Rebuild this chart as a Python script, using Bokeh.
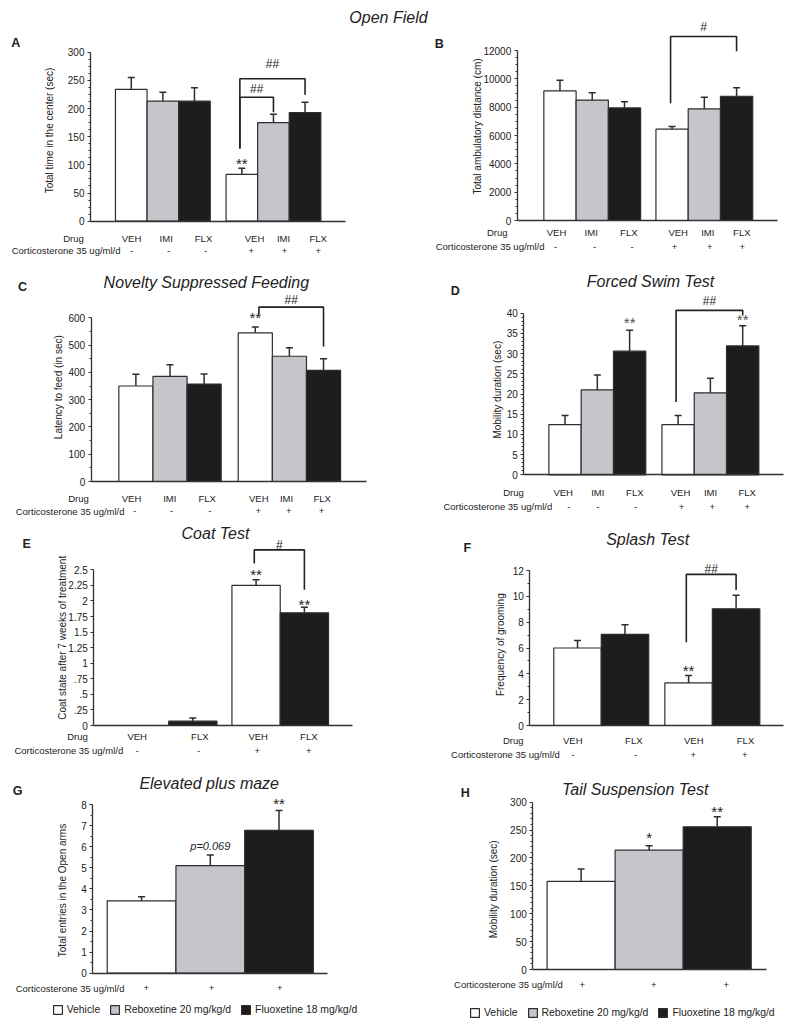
import math
from bokeh.plotting import figure
from bokeh.models import Label, Range1d, FixedTicker, Legend, LegendItem, ColumnDataSource
from bokeh.layouts import column, row
from bokeh.embed import file_html
from bokeh.resources import INLINE

# ---------------- data ----------------
drug6 = ["VEH", "IMI", "FLX", "VEH", "IMI", "FLX"]
cort6 = ["-", "-", "-", "+", "+", "+"]
drug4 = ["VEH", "FLX", "VEH", "FLX"]
cort4 = ["-", "-", "+", "+"]
treat3 = ["Vehicle", "Reboxetine 20 mg/kg/d", "Fluoxetine 18 mg/kg/d"]
cort3 = ["+", "+", "+"]

a_time_center = [234, 213, 213, 83, 175, 193]
a_sem = [21, 16, 24, 11, 15, 18]
b_distance = [9150, 8500, 7950, 6450, 7880, 8770]
b_sem = [750, 520, 430, 190, 820, 600]
c_latency = [350, 385, 357, 545, 459, 407]
c_sem = [43, 43, 37, 21, 31, 43]
d_mobility = [12.4, 21.0, 30.6, 12.4, 20.3, 31.9]
d_sem = [2.3, 3.7, 5.2, 2.3, 3.6, 5.0]
e_coat = [0.0, 0.07, 2.25, 1.81]
e_sem = [0.0, 0.05, 0.09, 0.09]
f_grooming = [6.0, 7.05, 3.3, 9.03]
f_sem = [0.58, 0.75, 0.57, 1.05]
g_entries = [3.43, 5.1, 6.77]
g_sem = [0.2, 0.5, 0.95]
h_mobility = [158, 214, 256]
h_sem = [22, 8, 18]

# significance brackets: (from bar, to bar, top, left foot, right foot, label)
a_brackets = [(3, 4, 220, 129, 193.5, "##"), (3, 5, 253, 129, 224.4, "##")]
b_brackets = [(3, 5, 12990, 8280, 11950, "#")]
c_brackets = [(3, 5, 639, 612, 495, "##")]
d_brackets = [(3, 5, 40.7, 18.0, 39.4, "##")]
e_brackets = [(2, 3, 2.82, 2.60, 2.18, "#")]
f_brackets = [(2, 3, 11.7, 6.45, 10.5, "##")]

# stars above bars: (bar, text)
a_stars = [(3, "**")]
c_stars = [(3, "**")]
d_stars = [(2, "**"), (5, "**")]
e_stars = [(2, "**"), (3, "**")]
f_stars = [(2, "**")]
g_stars = [(1, "p=0.069"), (2, "**")]
h_stars = [(1, "*"), (2, "**")]

# ---------------- style ----------------
FONT = "Liberation Sans"
TXT = "#222222"
AX = "#333333"
EDGE = "#2e2e2e"
COL = {"VEH": "#ffffff", "IMI": "#c4c6cc", "FLX": "#1f1c1d",
       "Vehicle": "#ffffff", "Reboxetine 20 mg/kg/d": "#c4c6cc", "Fluoxetine 18 mg/kg/d": "#1f1c1d"}


def tick_lists(ymax, step, nminor):
    n = int(round(ymax / step))
    majors = [round(k * step, 6) for k in range(n + 1)]
    minors = []
    if nminor > 1:
        for k in range(n):
            for m in range(1, nminor):
                minors.append(round(k * step + m * step / nminor, 6))
    return majors, minors


def build(cfg, names, vals, errs, cort, drug=None, brackets=(), stars=(), ox=0, oy=0):
    # box: width/height, y-axis x position, right gap, (unused), x-axis distance from bottom
    w, h, l, r, t, b = cfg["box"]
    xend = cfg["xend"]
    ymax = cfg["ymax"]
    unit = (w - l - r) / xend          # px per bar width
    ppu = cfg["span"] / ymax           # px per y unit
    W, H, L = w + ox, h + oy, l + ox   # canvas including page offset
    p = figure(width=int(round(W)), height=int(round(H)),
               x_range=Range1d(-L / unit, (W - L) / unit),
               y_range=Range1d(-b / ppu, (H - b) / ppu),
               min_border=0, min_border_left=0, min_border_right=0,
               min_border_top=0, min_border_bottom=0,
               output_backend="svg", toolbar_location=None, outline_line_color=None)
    p.xgrid.grid_line_color = None
    p.ygrid.grid_line_color = None

    def dx(px):
        return (px - l) / unit

    def dy(py):
        return (h - b - py) / ppu

    def py_of(v):
        return h - b - v * ppu

    def text(px, py, s, size="10px", align="center", style="normal", angle=0.0, color=TXT):
        p.add_layout(Label(x=dx(px), y=dy(py), text=s, text_font=FONT, text_font_size=size,
                           text_font_style=style, text_align=align, text_baseline="middle",
                           angle=angle, text_color=color))

    # axes (real Bokeh axes, fixed inside the frame)
    ya = p.yaxis[0]
    majors, minors = tick_lists(ymax, cfg["step"], cfg["nminor"])
    ya.ticker = FixedTicker(ticks=majors, minor_ticks=minors)
    ya.bounds = (0, ymax)
    ya.fixed_location = 0
    if cfg.get("fmt_short"):
        ov = {}
        for m in majors:
            s = "%g" % m
            if s.startswith("0."):
                s = s[1:]
            ov[float(m)] = s
        ya.major_label_overrides = ov
    ya.major_label_text_font = FONT
    ya.major_label_text_font_size = "10px"
    ya.major_label_text_color = TXT
    ya.major_label_standoff = 3
    ya.major_tick_out = 3
    ya.major_tick_in = 0
    ya.minor_tick_out = 2
    ya.minor_tick_in = 0
    ya.axis_line_color = AX
    ya.axis_line_width = 1.3
    ya.major_tick_line_color = AX
    ya.minor_tick_line_color = AX

    xa = p.xaxis[0]
    xa.ticker = FixedTicker(ticks=[])
    xa.bounds = (0, xend)
    xa.fixed_location = 0
    xa.major_label_text_font_size = "0px"
    xa.major_tick_line_color = None
    xa.minor_tick_line_color = None
    xa.axis_line_color = AX
    xa.axis_line_width = 1.3

    # bars
    n = len(vals)
    xs = [cfg["lead"] + i + cfg["gap"] * (i // cfg["grp"]) + 0.5 for i in range(n)]
    src = ColumnDataSource(dict(x=xs, top=vals, color=[COL[s] for s in names]))
    rend = p.vbar(x="x", top="top", width=1, bottom=0, fill_color="color",
                  line_color=EDGE, line_width=1.2, source=src)

    # error bars (upper only)
    cap = 3.5 / unit
    ex = [x for x, e in zip(xs, errs) if e > 0]
    ev = [v for v, e in zip(vals, errs) if e > 0]
    et = [v + e for v, e in zip(vals, errs) if e > 0]
    p.segment(x0=ex, y0=ev, x1=ex, y1=et, line_color=EDGE, line_width=1.5)
    p.segment(x0=[x - cap for x in ex], y0=et, x1=[x + cap for x in ex], y1=et,
              line_color=EDGE, line_width=1.5)

    # brackets
    for k, (i, j, top, lb, rb, lab) in enumerate(brackets):
        shift = cfg["bshift"][k] / unit
        xl, xr = xs[i] + shift, xs[j]
        p.line(x=[xl, xl, xr, xr], y=[lb, top, top, rb], line_color="#222222", line_width=1.6)
        text(l + ((xl + xr) / 2) * unit, py_of(top) - cfg["blab"][k], lab, size="12px")

    # stars
    for k, (i, s) in enumerate(stars):
        d = cfg["sd"][k]
        if "=" not in s:
            text(l + xs[i] * unit, py_of(vals[i] + errs[i]) - d, s, size="15px",
                 color=cfg.get("star_color", TXT))
        else:
            text(l + xs[i] * unit, py_of(vals[i] + errs[i]) - d, s, size="11px", style="italic")

    # titles and letters
    if cfg.get("title"):
        tx, ty = cfg["title_pos"]
        text(tx, ty, cfg["title"], size="16px", style="italic")
    lx, ly = cfg["letter_pos"]
    text(lx, ly, cfg["letter"], size="12.5px", style="bold")
    yx, yy = cfg["ylab_pos"]
    text(yx, yy, cfg["ylabel"], size="10px", angle=math.pi / 2)

    # treatment rows
    if drug is not None:
        dy_px = cfg["drug_y"]
        text(cfg["drug_right"], dy_px, "Drug", size="9.5px", align="right")
        for px, s in zip(cfg["drug_xs"], drug):
            text(px, dy_px, s, size="9.5px")
    cy = cfg["cort_y"]
    text(cfg["cort_right"], cy, "Corticosterone 35 ug/ml/d", size="9.5px", align="right")
    for px, s in zip(cfg["cort_xs"], cort):
        text(px, cy, s, size="9.5px")

    if cfg.get("legend_px") is not None:
        lxp, lyc = cfg["legend_px"]
        items = [LegendItem(label=names[i], renderers=[rend], index=i) for i in range(n)]
        leg = Legend(items=items, location=(lxp + ox, h - (lyc + 5.5)), orientation="horizontal",
                     padding=0, margin=0, spacing=9, label_standoff=4,
                     glyph_width=11, glyph_height=11, label_height=11,
                     label_text_font=FONT, label_text_font_size="10.4px",
                     label_text_color=TXT, border_line_color=None, background_fill_alpha=0)
        p.add_layout(leg, "center")
    return p


cfgA = dict(box=(422, 250, 82, 85, 44, 37.3), xend=8.07, lead=0.79, gap=0.5, grp=3,
            ymax=300, span=169, step=50, nminor=4,
            title="Open Field", title_pos=(380, 9), letter="A", letter_pos=(7.3, 34.7),
            ylabel="Total time in the center (sec)", ylab_pos=(41, 122),
            drug_y=230.3, drug_right=75.3, drug_xs=[123, 157.7, 195, 246, 275, 309.7],
            cort_y=242, cort_right=112, cort_xs=[123, 160, 197, 242.7, 276, 309.7],
            bshift=[-2, -2], blab=[8, 15], sd=[4.6])
cfgB = dict(box=(362, 250, 86.7, 15.3, 12, 38), xend=8.06, lead=0.826, gap=0.475, grp=3,
            ymax=12000, span=170, step=2000, nminor=4,
            letter="B", letter_pos=(8.8, 35.3),
            ylabel="Total ambulatory distance (cm)", ylab_pos=(47.3, 118),
            drug_y=224.3, drug_right=77, drug_xs=[126, 160.7, 198.3, 247.7, 277.3, 311.3],
            cort_y=238, cort_right=114, cort_xs=[125, 164, 201.7, 244, 279.3, 311.7],
            bshift=[-1.5], blab=[9], sd=[])
cfgC = dict(box=(392, 260, 82.7, 34, 34, 37), xend=8.07, lead=0.81, gap=0.5, grp=3,
            ymax=600, span=163.7, step=100, nminor=2,
            title="Novelty Suppressed Feeding", title_pos=(197.8, 23.7), letter="C",
            letter_pos=(14, 28.7),
            ylabel="Latency to feed (in sec)", ylab_pos=(50.3, 128.7),
            drug_y=240.3, drug_right=80.3, drug_xs=[123, 161.3, 198.7, 250.3, 278, 313.7],
            cort_y=252.7, cort_right=116, cort_xs=[126.3, 163, 201.3, 249.7, 280.3, 313],
            bshift=[3.6], blab=[7], sd=[10])
cfgD = dict(box=(392, 260, 123.3, 9.3, 34, 43.7), xend=8.03, lead=0.776, gap=0.5, grp=3,
            ymax=40, span=161.6, step=5, nminor=5,
            title="Forced Swim Test", title_pos=(250, 22.7), letter="D", letter_pos=(54.7, 32),
            ylabel="Mobility duration (sec)", ylab_pos=(96.7, 131.2),
            drug_y=234.3, drug_right=123.3, drug_xs=[162.7, 197.3, 234.3, 280, 310, 346.7],
            cort_y=248, cort_right=151.7, cort_xs=[168.3, 197.3, 235, 281, 311.7, 346.7],
            bshift=[-2], blab=[9.3], sd=[7.6, 6], star_color="#555555")
cfgE = dict(box=(392, 244, 85.3, 48.3, 18, 37), xend=5.35, lead=0.55, gap=0.31, grp=2,
            ymax=2.5, span=155.7, step=0.25, nminor=0, fmt_short=True,
            title="Coat Test", title_pos=(207, 15.3), letter="E", letter_pos=(18.2, 25.3),
            ylabel="Coat state after 7 weeks of treatment", ylab_pos=(53.7, 119.3),
            drug_y=218, drug_right=79.3, drug_xs=[128.7, 191.3, 249.7, 300.3],
            cort_y=232, cort_right=114.7, cort_xs=[128.7, 190.3, 248.7, 300.3],
            bshift=[-1.8], blab=[5.3], sd=[5, 2.5])
cfgF = dict(box=(392, 244, 129.3, 8.7, 40, 37), xend=5.35, lead=0.505, gap=0.34, grp=2,
            ymax=12, span=155, step=2, nminor=2,
            title="Splash Test", title_pos=(247.2, 21.3), letter="F", letter_pos=(66.7, 29.7),
            ylabel="Frequency of grooming", ylab_pos=(100, 126.2),
            drug_y=222, drug_right=123, drug_xs=[172.3, 233.3, 293.3, 345],
            cort_y=236.3, cort_right=159.3, cort_xs=[172.7, 235, 292.7, 344.3],
            bshift=[-2.3], blab=[5], sd=[5])
cfgG = dict(box=(392, 266, 84.3, 72.7, 34, 55.3), xend=3.42, lead=0.21, gap=0, grp=3,
            ymax=8, span=168.7, step=1, nminor=2,
            title="Elevated plus maze", title_pos=(200.7, 20.7), letter="G", letter_pos=(9.2, 28),
            ylabel="Total entries in the Open arms", ylab_pos=(54.3, 128),
            cort_y=225.7, cort_right=116, cort_xs=[137.7, 203, 271.3],
            bshift=[], blab=[], sd=[9.3, 6.7], legend_px=(43.7, 247))
cfgH = dict(box=(392, 266, 132.3, 26.3, 34, 59), xend=3.43, lead=0.21, gap=0, grp=3,
            ymax=300, span=167.3, step=50, nminor=5,
            title="Tail Suspension Test", title_pos=(234.7, 27.3), letter="H", letter_pos=(64.7, 30.3),
            ylabel="Mobility duration (sec)", ylab_pos=(93.3, 126.8),
            cort_y=222.3, cort_right=162.3, cort_xs=[181.7, 253.3, 325.7],
            bshift=[], blab=[], sd=[8, 5], legend_px=(69, 250.7))

# page offset: the figures start at the window's top-left corner
pA = build(cfgA, drug6, a_time_center, a_sem, cort6, drug6, a_brackets, a_stars, ox=8, oy=8)
pB = build(cfgB, drug6, b_distance, b_sem, cort6, drug6, b_brackets, [], ox=0, oy=8)
pC = build(cfgC, drug6, c_latency, c_sem, cort6, drug6, c_brackets, c_stars, ox=8)
pD = build(cfgD, drug6, d_mobility, d_sem, cort6, drug6, d_brackets, d_stars)
pE = build(cfgE, drug4, e_coat, e_sem, cort4, drug4, e_brackets, e_stars, ox=8)
pF = build(cfgF, drug4, f_grooming, f_sem, cort4, drug4, f_brackets, f_stars)
pG = build(cfgG, treat3, g_entries, g_sem, cort3, None, [], g_stars, ox=8)
pH = build(cfgH, treat3, h_mobility, h_sem, cort3, None, [], h_stars)

layout = column(row(pA, pB), row(pC, pD), row(pE, pF), row(pG, pH))
open("out.html", "w").write(file_html(layout, INLINE))
